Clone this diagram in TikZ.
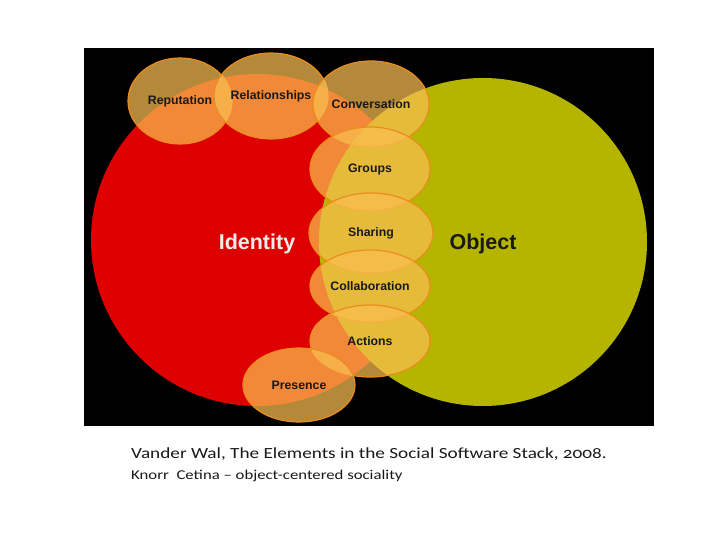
\documentclass[tikz,border=0pt]{standalone}
\usepackage{fontspec}
\setmainfont{Liberation Sans}
\newfontfamily\capfont[Numbers=OldStyle, FakeStretch=1.24]{Carlito}
\usetikzlibrary{shapes.geometric}
\definecolor{idred}{RGB}{222,0,0}
\definecolor{objolive}{RGB}{181,181,0}
\definecolor{bubfill}{RGB}{250,190,80}
\definecolor{bubline}{RGB}{235,140,30}

\begin{document}
\begin{tikzpicture}[
    x=1pt, y=-1pt,
    bigset/.style={
        circle,
        inner sep=0pt,
        font=\fontsize{21.5}{25}\selectfont\bfseries
    },
    bubble/.style={
        ellipse,
        draw=bubline,
        line width=1.2pt,
        fill=bubfill,
        fill opacity=0.72,
        text opacity=1,
        inner sep=0pt,
        text=black!90,
        font=\fontsize{12.3}{14}\selectfont\bfseries
    },
    caption/.style={
        anchor=base west,
        inner sep=0pt,
        text=black!90
    }
]
\useasboundingbox (0,0) rectangle (720,540);
\fill[black] (84,48) rectangle (654,426);

% Sets
\node (identity) [bigset, fill=idred, text=white!92!black, minimum size=332pt] at (257,240) {\raisebox{-4pt}[\height][\depth]{Identity}};
\node (object) [bigset, fill=objolive, text=black!90, minimum size=328pt] at (483,242) {\raisebox{-2pt}[\height][\depth]{Object}};

% Bubbles
\node (reputation) [bubble, minimum width=104pt, minimum height=86pt] at (180,101) {Reputation};
\node (relationships) [bubble, minimum width=104pt, minimum height=86pt] at (271,96) {Relationships};
\node (conversation) [bubble, minimum width=116pt, minimum height=86pt] at (371,104) {Conversation};
\node (groups) [bubble, minimum width=120pt, minimum height=84pt] at (370,169) {Groups};
\node (sharing) [bubble, minimum width=124pt, minimum height=80pt] at (371,233) {Sharing};
\node (collaboration) [bubble, minimum width=120pt, minimum height=72pt] at (370,286) {Collaboration};
\node (actions) [bubble, minimum width=120pt, minimum height=72pt] at (370,341) {Actions};
\node (presence) [bubble, minimum width=112pt, minimum height=74pt] at (299,385) {Presence};

% Caption
\node (source) [caption, font=\capfont\fontsize{15.5}{18}\selectfont] at (131,458) {Vander Wal, The Elements in the Social Software Stack, 2008.};
\node (note) [caption, font=\capfont\fontsize{13.5}{16}\selectfont] at (131,479) {Knorr\ \ Cetina – object-centered sociality};

\end{tikzpicture}
\end{document}
